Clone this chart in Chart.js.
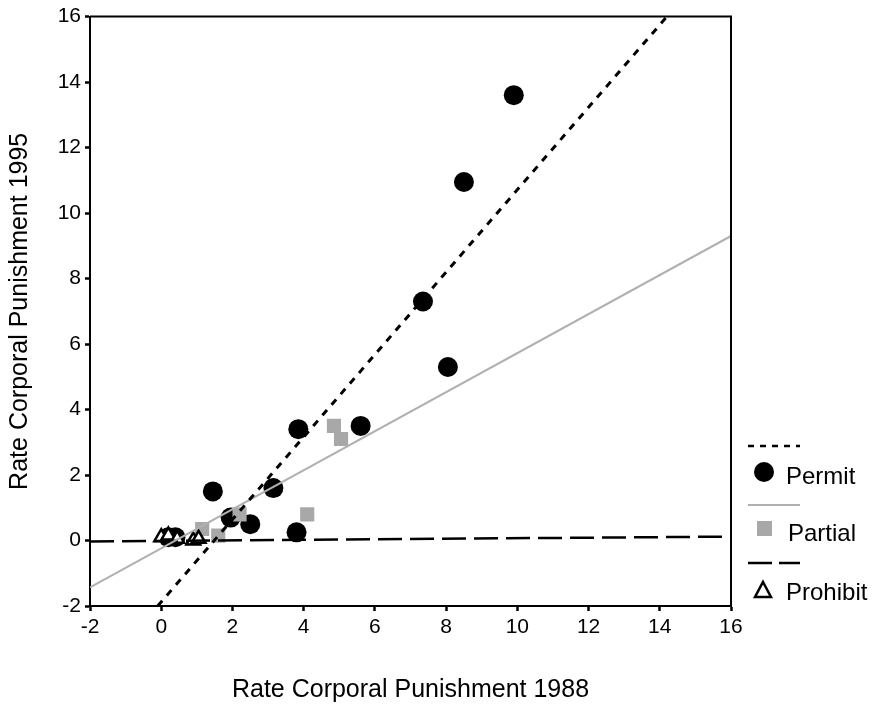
<!DOCTYPE html>
<html>
<head>
<meta charset="utf-8">
<script src="https://cdn.jsdelivr.net/npm/chart.js@4"></script>
<style>
  body { margin: 0; background: #fff; }
  #wrap { width: 873px; height: 711px; }
</style>
</head>
<body>
<div id="wrap"><canvas id="scatter" width="873" height="711"></canvas></div>
<script>
// values
const permitX = [9.9, 8.5, 7.35, 8.05, 5.6, 3.85, 3.15, 1.45, 2.5, 3.8, 1.95, 0.2, 0.4];
const permitY = [13.6, 10.95, 7.3, 5.3, 3.5, 3.4, 1.6, 1.5, 0.5, 0.25, 0.7, 0.1, 0.1];
const partialX = [4.85, 5.05, 4.1, 2.2, 1.15, 1.6];
const partialY = [3.5, 3.1, 0.8, 0.8, 0.35, 0.15];
const prohibitX = [0.0, 0.2, 0.45, 0.9, 1.05];
const prohibitY = [0.1, 0.15, 0.05, 0.0, 0.05];

// fit lines, end points
const permitFitX = [-0.1, 14.2];
const permitFitY = [-2, 16];
const partialFitX = [-2, 16];
const partialFitY = [-1.43, 9.3];
const prohibitFitX = [-2, 16];
const prohibitFitY = [-0.03, 0.12];

const xTicks = [-2, 0, 2, 4, 6, 8, 10, 12, 14, 16];
const yTicks = [-2, 0, 2, 4, 6, 8, 10, 12, 14, 16];

const pts = (xs, ys) => xs.map((x, i) => ({ x: x, y: ys[i] }));
const FONT = '"Liberation Sans", Arial, sans-serif';

// legend + box on the right, drawn by hand
const sideLegend = {
  id: 'sideLegend',
  afterDraw(chart) {
    const ctx = chart.ctx;
    const a = chart.chartArea;
    ctx.save();
    // top and right border of the box
    ctx.strokeStyle = '#000';
    ctx.lineWidth = 2;
    ctx.beginPath();
    ctx.moveTo(a.left, a.top);
    ctx.lineTo(a.right, a.top);
    ctx.lineTo(a.right, a.bottom);
    ctx.stroke();

    const x0 = 748, x1 = 800;
    ctx.font = '24px ' + FONT;
    ctx.textBaseline = 'middle';
    ctx.fillStyle = '#000';

    // Permit
    ctx.setLineDash([6, 6]);
    ctx.lineWidth = 2.5;
    ctx.beginPath(); ctx.moveTo(x0, 446); ctx.lineTo(x1, 446); ctx.stroke();
    ctx.setLineDash([]);
    ctx.beginPath(); ctx.arc(764, 472, 10, 0, Math.PI * 2); ctx.fill();
    ctx.fillText('Permit', 786, 477);

    // Partial
    ctx.strokeStyle = '#b0b0b0';
    ctx.lineWidth = 2;
    ctx.beginPath(); ctx.moveTo(x0, 505); ctx.lineTo(x1, 505); ctx.stroke();
    ctx.fillStyle = '#a8a8a8';
    ctx.fillRect(757, 521, 15, 15);
    ctx.fillStyle = '#000';
    ctx.fillText('Partial', 788, 534);

    // Prohibit
    ctx.strokeStyle = '#000';
    ctx.setLineDash([24, 7]);
    ctx.lineWidth = 2.5;
    ctx.beginPath(); ctx.moveTo(x0, 563); ctx.lineTo(x1, 563); ctx.stroke();
    ctx.setLineDash([]);
    ctx.lineWidth = 2.5;
    ctx.beginPath();
    ctx.moveTo(763, 582); ctx.lineTo(771, 597); ctx.lineTo(755, 597); ctx.closePath();
    ctx.stroke();
    ctx.fillText('Prohibit', 786, 593);
    ctx.restore();
  }
};

new Chart(document.getElementById('scatter'), {
  type: 'scatter',
  data: {
    datasets: [
      {
        label: 'Permit fit',
        type: 'line',
        data: pts(permitFitX, permitFitY),
        borderColor: '#000',
        borderWidth: 3,
        borderDash: [7, 7],
        pointRadius: 0,
        fill: false
      },
      {
        label: 'Partial fit',
        type: 'line',
        data: pts(partialFitX, partialFitY),
        borderColor: '#b0b0b0',
        borderWidth: 2,
        pointRadius: 0,
        fill: false
      },
      {
        label: 'Prohibit fit',
        type: 'line',
        data: pts(prohibitFitX, prohibitFitY),
        borderColor: '#000',
        borderWidth: 2.5,
        borderDash: [24, 8],
        pointRadius: 0,
        fill: false
      },
      {
        label: 'Prohibit',
        data: pts(prohibitX, prohibitY),
        pointStyle: 'triangle',
        pointRadius: 8,
        backgroundColor: '#fff',
        borderColor: '#000',
        borderWidth: 2.5
      },
      {
        label: 'Partial',
        data: pts(partialX, partialY),
        pointStyle: 'rect',
        pointRadius: 10,
        backgroundColor: '#a8a8a8',
        borderColor: '#a8a8a8',
        borderWidth: 0
      },
      {
        label: 'Permit',
        data: pts(permitX, permitY),
        pointStyle: 'circle',
        pointRadius: 10,
        backgroundColor: '#000',
        borderColor: '#000',
        borderWidth: 0
      }
    ]
  },
  options: {
    responsive: false,
    animation: false,
    layout: { padding: { left: 0, right: 142, top: 14, bottom: 0 } },
    plugins: {
      legend: { display: false },
      tooltip: { enabled: false }
    },
    scales: {
      x: {
        type: 'linear',
        min: -2, max: 16,
        afterBuildTicks: s => { s.ticks = xTicks.map(v => ({ value: v })); },
        afterFit: s => { s.height = 105; },
        grid: { drawOnChartArea: false, tickLength: 5, tickWidth: 2.5, tickColor: '#000' },
        border: { color: '#000', width: 2 },
        ticks: { color: '#000', font: { family: FONT, size: 21 }, padding: 4, maxRotation: 0 },
        title: { display: true, text: 'Rate Corporal Punishment 1988', color: '#000',
                 font: { family: FONT, size: 25 }, padding: { top: 0, bottom: 6 } }
      },
      y: {
        type: 'linear',
        min: -2, max: 16,
        afterBuildTicks: s => { s.ticks = yTicks.map(v => ({ value: v })); },
        afterFit: s => { s.width = 90; },
        grid: { drawOnChartArea: false, tickLength: 5, tickWidth: 2.5, tickColor: '#000' },
        border: { color: '#000', width: 2 },
        ticks: { color: '#000', font: { family: FONT, size: 21 }, padding: 4 },
        title: { display: true, text: 'Rate Corporal Punishment 1995', color: '#000',
                 font: { family: FONT, size: 25 }, padding: { top: 5, bottom: 0 } }
      }
    }
  },
  plugins: [sideLegend]
});
</script>
</body>
</html>
